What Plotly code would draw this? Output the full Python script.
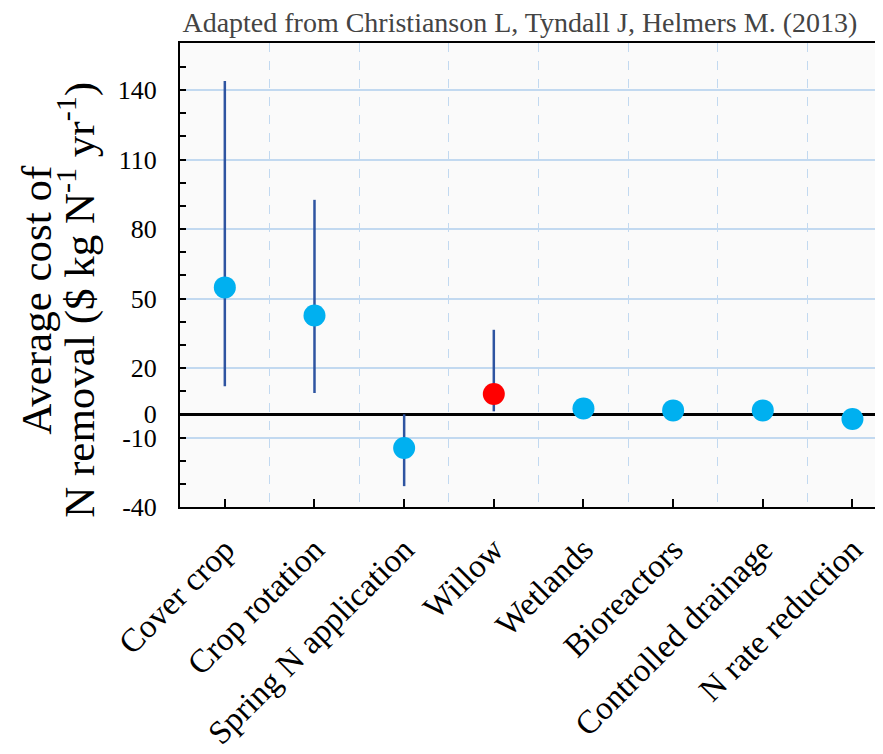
import plotly.graph_objects as go

categories = ["Cover crop", "Crop rotation", "Spring N application", "Willow",
              "Wetlands", "Bioreactors", "Controlled drainage", "N rate reduction"]
avg_cost = [54.8, 42.7, -14.5, 8.8, 2.5, 1.7, 1.7, -2.0]
upper = [143.9, 92.6, 0.0, 36.5, None, None, None, None]
lower = [12.1, 9.2, -31.0, 1.3, None, None, None, None]
y_ticks = [-40, -10, 0, 20, 50, 80, 110, 140]
y_tick_labels = ["-40", "-10", "0", "20", "50", "80", "110", "140"]
highlight = "Willow"

x_pos = list(range(len(categories)))
err_plus = [(u - v) if u is not None else 0 for u, v in zip(upper, avg_cost)]
err_minus = [(v - l) if l is not None else 0 for l, v in zip(lower, avg_cost)]
colors = ["#FF0000" if c == highlight else "#00B0F0" for c in categories]

FONT = "Liberation Serif, Times New Roman, serif"

fig = go.Figure()
fig.add_trace(go.Scatter(
    x=x_pos, y=avg_cost, mode="markers",
    marker=dict(size=22, color=colors, line=dict(width=0)),
    error_y=dict(type="data", symmetric=False, array=err_plus, arrayminus=err_minus,
                 color="#2E54A1", thickness=2.5, width=0),
    showlegend=False, hoverinfo="x+y",
))

fig.update_layout(
    width=883, height=754,
    margin=dict(l=172, r=0, t=35, b=254.5, autoexpand=False),
    paper_bgcolor="white",
    plot_bgcolor="#FAFAFA",
    font=dict(family=FONT, color="black"),
    title=dict(text="Adapted from Christianson L, Tyndall J, Helmers M. (2013)",
               font=dict(family=FONT, size=28, color="#444444"),
               x=0.478, xref="paper", xanchor="center",
               y=0.981, yref="container", yanchor="middle", automargin=False),
    xaxis=dict(
        automargin=False,
        range=[-0.5, 7.43],
        tickmode="array", tickvals=x_pos, ticktext=categories,
        tickangle=-45, tickfont=dict(family=FONT, size=33, color="black"),
        ticks="inside", ticklen=8, tickwidth=1.5, tickcolor="black",
        ticklabelstandoff=8,
        showline=True, linecolor="black", linewidth=2, mirror=True,
        showgrid=False, zeroline=False,
        minor=dict(tickvals=[i + 0.5 for i in x_pos[:-1]], showgrid=True,
                   gridcolor="#C2D9F0", griddash="dash", gridwidth=1.2, ticks=""),
    ),
    yaxis=dict(
        automargin=False,
        range=[-40, 160.3],
        tickmode="array", tickvals=y_ticks, ticktext=y_tick_labels,
        tickfont=dict(family=FONT, size=26, color="black"),
        ticks="inside", ticklen=6, tickwidth=1.5, tickcolor="black",
        ticklabelstandoff=16,
        showline=True, linecolor="black", linewidth=2,
        showgrid=True, gridcolor="#C2D9F0", gridwidth=1.5,
        zeroline=True, zerolinecolor="black", zerolinewidth=2.5,
        minor=dict(tickvals=list(range(-40, 161, 10)), ticks="inside", ticklen=6,
                   tickwidth=1.5, tickcolor="black", showgrid=False),
    ),
    annotations=[
        dict(text="Average cost of",
             textangle=-90, xref="paper", yref="paper",
             x=-0.201, y=0.447, xanchor="center", yanchor="middle",
             showarrow=False, font=dict(family=FONT, size=43, color="black")),
        dict(text="N removal ($ kg N<sup>-1</sup> yr<sup>-1</sup>)",
             textangle=-90, xref="paper", yref="paper",
             x=-0.146, y=0.447, xanchor="center", yanchor="middle",
             showarrow=False, font=dict(family=FONT, size=43, color="black")),
    ],
)

fig.write_html("out.html")
